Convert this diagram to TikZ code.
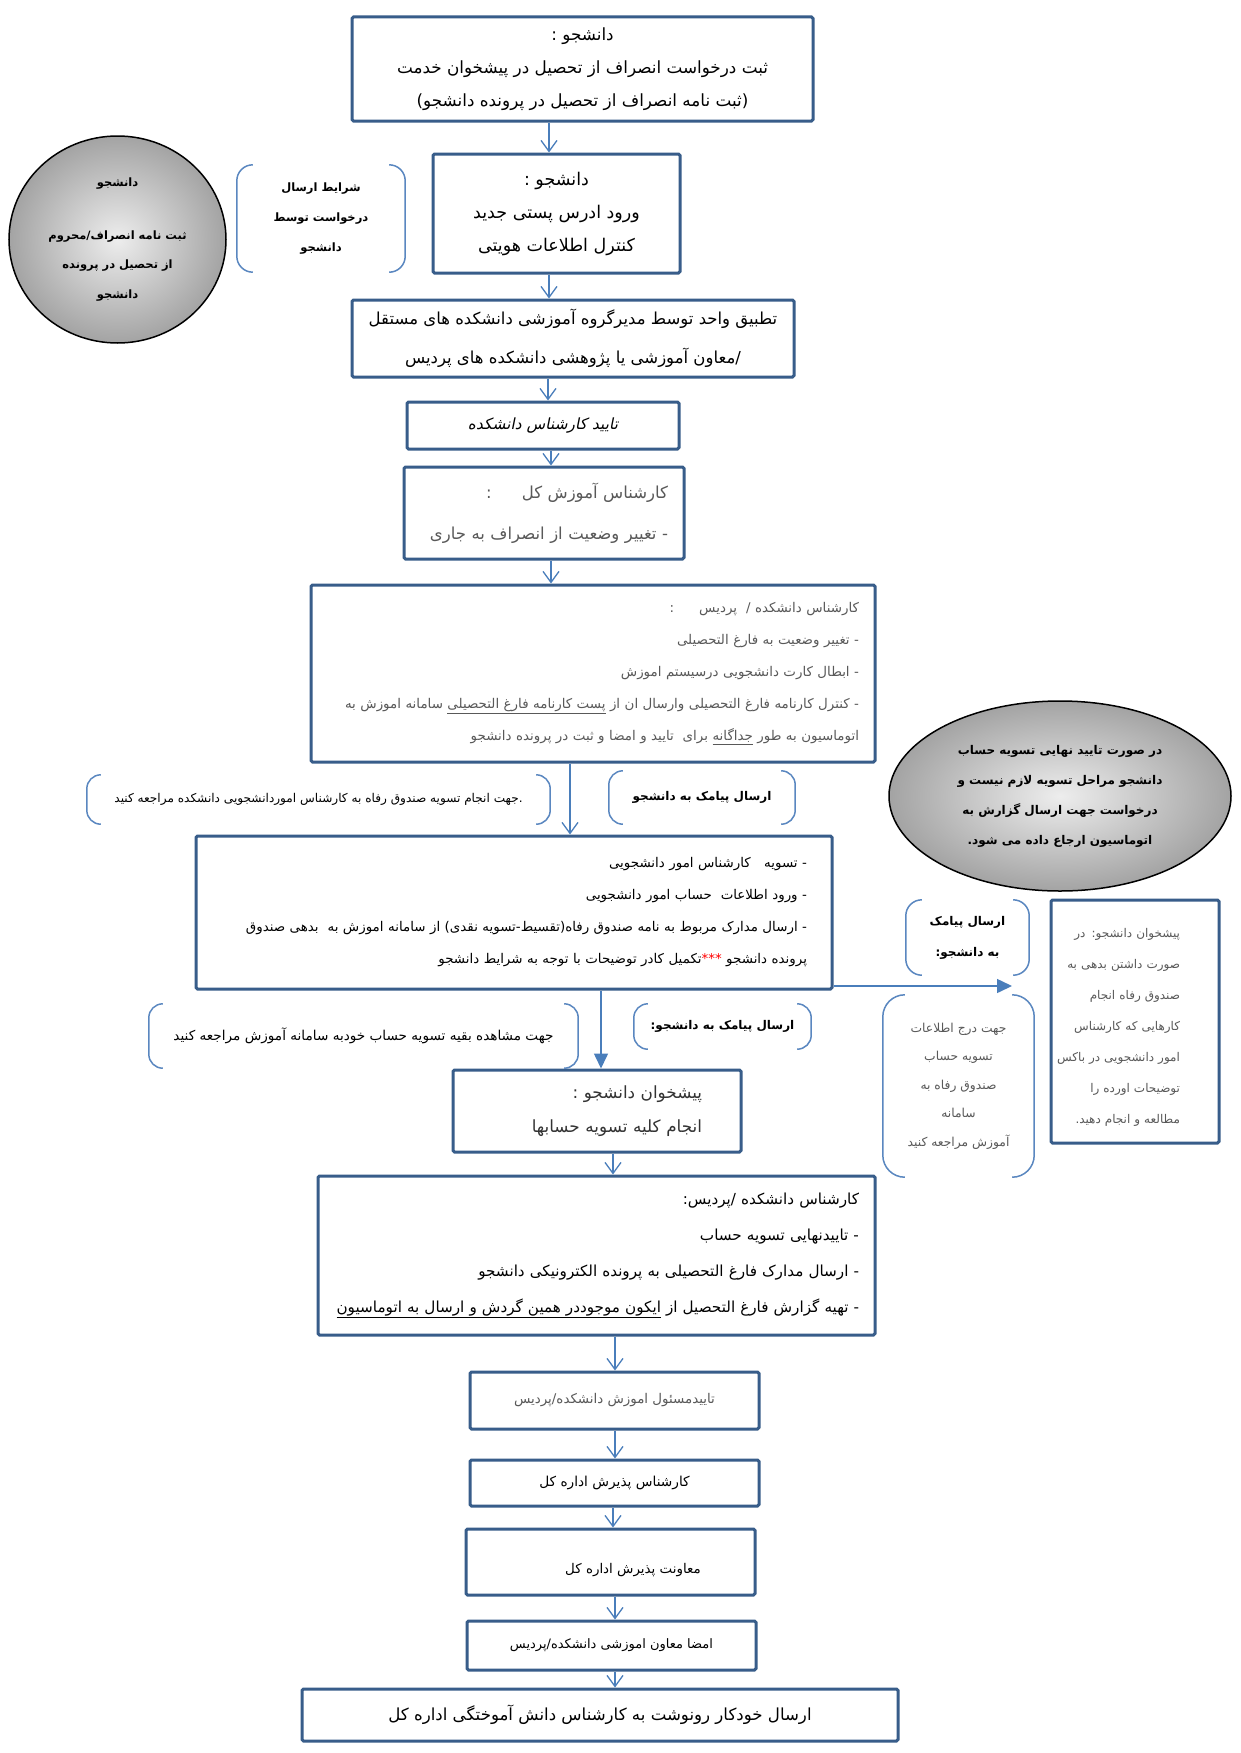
\documentclass[tikz,border=0pt]{standalone}
\usepackage{fontspec}
\usetikzlibrary{arrows.meta,shapes.geometric}
\TeXXeTstate=1
\newfontfamily\arabicfont[Script=Arabic]{DejaVu Sans}
\newfontfamily\arabicit[Script=Arabic,FakeSlant=0.2]{DejaVu Sans}
\newcommand\fa[1]{\beginR#1\endR}
\newcommand\fz[2]{\fontsize{#1}{#2}\selectfont\arabicfont}
\newcommand\ul[1]{\underline{\hbox{\beginR#1\endR}}}
\definecolor{boxc}{HTML}{385D8A}
\definecolor{arrc}{HTML}{4A7EBB}
\definecolor{brkc}{HTML}{5A87C0}
\definecolor{txtg}{HTML}{595959}
\newcommand\drawbrk[3]{%
 \draw[brk, rounded corners=#2] ([xshift=#3]#1.north west) -- (#1.north west) -- (#1.south west) -- ([xshift=#3]#1.south west);
 \draw[brk, rounded corners=#2] ([xshift=-#3]#1.north east) -- (#1.north east) -- (#1.south east) -- ([xshift=-#3]#1.south east);}
\begin{document}
\begin{tikzpicture}[x=1pt,y=-1pt,
  box/.style={draw=boxc, line width=3pt, rounded corners=1.5pt, inner sep=0pt, align=center},
  rbox/.style={draw=boxc, line width=3pt, rounded corners=1.5pt, inner xsep=#1, inner ysep=0pt, align=right},
  brknode/.style={inner sep=0pt, align=center},
  brk/.style={draw=brkc, line width=1.5pt},
  arr/.style={draw=arrc, line width=1.3pt, -{Straight Barb[length=11pt,width=16pt]}},
  farr/.style={draw=arrc, line width=1.5pt, -{Triangle[length=15pt,width=14pt]}},
  oval/.style={ellipse, draw=black, line width=1.5pt, inner color=black!7, outer color=black!36, inner sep=0pt, align=center}
]
\fill[white] (0,0) rectangle (1240,1753);
\useasboundingbox (0,0) rectangle (1240,1753);

% main column
\node[box, minimum width=461pt, minimum height=104pt, font=\fz{16.8}{33}] (b1) at (582.5,69)
 {\fa{دانشجو :}\\\fa{ثبت درخواست انصراف از تحصیل در پیشخوان خدمت}\\\fa{(ثبت نامه انصراف از تحصیل در پرونده دانشجو)}};
\node[box, minimum width=247pt, minimum height=119pt, font=\fz{17.5}{33}] (b2) at (556.5,213.5)
 {\fa{دانشجو :}\\\fa{ورود ادرس پستی جدید}\\\fa{کنترل اطلاعات هویتی}};
\node[box, minimum width=442pt, minimum height=77pt, font=\fz{16.5}{39}] (b3) at (573,338.5)
 {\fa{تطبیق واحد توسط مدیرگروه آموزشی دانشکده های مستقل}\\\fa{معاون آموزشی یا پژوهشی دانشکده های پردیس}/};
\node[box, minimum width=272pt, minimum height=47pt, font=\fontsize{15.4}{17}\selectfont\arabicit] (b4) at (543,425.5)
 {\fa{تایید کارشناس دانشکده}};
\node[rbox=16pt, text width=248pt, minimum height=92pt, text=txtg, font=\fz{16.5}{41}] (b5) at (544,513)
 {\fa{کارشناس آموزش کل\hspace{30pt}:}\\\fa{- تغییر وضعیت از انصراف به جاری}};
\node[rbox=16pt, text width=532pt, minimum height=177pt, text=txtg, font=\fz{13.4}{32}] (b6) at (593,673.5)
 {\fa{کارشناس دانشکده / ~پردیس\hspace{25pt}:}\\
  \fa{- تغییر وضعیت به فارغ التحصیلی}\\
  \fa{- ابطال کارت دانشجویی درسیستم اموزش}\\
  \fa{- کنترل کارنامه فارغ التحصیلی وارسال ان از \ul{پست کارنامه فارغ التحصیلی} سامانه اموزش به}\\
  \fa{اتوماسیون به طور \ul{جداگانه} برای ~تایید و امضا و ثبت در پرونده دانشجو}};
\node[rbox=25pt, text width=586pt, minimum height=153pt, font=\fz{13.4}{32}] (b7) at (514,912.5)
 {\fa{- تسویه ~~کارشناس امور دانشجویی}\\
  \fa{- ورود اطلاعات ~حساب امور دانشجویی}\\
  \fa{- ارسال مدارک مربوط به نامه صندوق رفاه(تقسیط-تسویه نقدی) از سامانه اموزش به ~بدهی صندوق}\\
  \fa{تکمیل کادر توضیحات با توجه به شرایط دانشجو}\textcolor{red}{***}~\fa{پرونده دانشجو}};
\node[rbox=39pt, text width=210pt, minimum height=82pt, text=black!80, font=\fz{16.8}{34}] (b8) at (597,1111)
 {\fa{پیشخوان دانشجو :}\\\fa{انجام کلیه تسویه حسابها}};
\node[rbox=16pt, text width=525pt, minimum height=159pt, font=\fz{15.2}{36}] (b9) at (596.5,1255.5)
 {\fa{کارشناس دانشکده /پردیس:}\\
  \fa{- تاییدنهایی تسویه حساب}\\
  \fa{- ارسال مدارک فارغ التحصیلی به پرونده الکترونیکی دانشجو}\\
  \fa{- تهیه گزارش فارغ التحصیل از \ul{ایکون موجوددر همین گردش و ارسال به اتوماسیون}}};
\node[box, minimum width=289pt, minimum height=57pt, text=txtg, font=\fz{13.4}{16}] (b10) at (614.5,1400.5)
 {\fa{تاییدمسئول اموزش دانشکده/پردیس}};
\node[box, minimum width=289pt, minimum height=46pt, font=\fz{13.7}{16}] (b11) at (614.5,1483)
 {\fa{کارشناس پذیرش اداره کل}};
\node[box, minimum width=289pt, minimum height=66pt] (b12) at (610.5,1562) {};
\node[font=\fz{13.4}{16}, inner sep=0pt] (b12t) at (633,1570) {\fa{معاونت پذیرش اداره کل}};
\node[box, minimum width=289pt, minimum height=49pt, font=\fz{13}{16}] (b13) at (611.5,1645.5)
 {\fa{امضا معاون اموزشی دانشکده/پردیس}};
\node[box, minimum width=596pt, minimum height=52pt, font=\fz{16.6}{20}] (b14) at (600,1715)
 {\fa{ارسال خودکار رونوشت به کارشناس دانش آموختگی اداره کل}};

% side elements
\node[oval, minimum width=217pt, minimum height=207pt, font=\fz{11.5}{29.5}\bfseries] (e1) at (117.5,239.5)
 {\fa{دانشجو}\\[23pt]\fa{ثبت نامه انصراف/محروم}\\\fa{از تحصیل در پرونده}\\\fa{دانشجو}};
\node[brknode, minimum width=168pt, minimum height=107pt, font=\fz{11.5}{30}\bfseries] (k1) at (321,218.5)
 {\fa{شرایط ارسال}\\\fa{درخواست توسط}\\\fa{دانشجو}};
\node[oval, minimum width=342pt, minimum height=190pt, font=\fz{12}{30}\bfseries] (e2) at (1060,796)
 {\fa{در صورت تایید نهایی تسویه حساب}\\\fa{دانشجو مراحل تسویه لازم نیست و}\\\fa{درخواست جهت ارسال گزارش به}\\\fa{اتوماسیون ارجاع داده می شود.}};
\node[brknode, minimum width=463pt, minimum height=49pt, font=\fz{12.1}{14}] (kA) at (318.5,799.5)
 {\fa{جهت انجام تسویه صندوق رفاه به کارشناس اموردانشجویی دانشکده مراجعه کنید}.};
\node[brknode, minimum width=186pt, minimum height=53pt, font=\fz{12}{14}\bfseries] (kB) at (702,797.5)
 {\fa{ارسال پیامک به دانشجو}};
\node[brknode, minimum width=123pt, minimum height=75pt, font=\fz{12}{31}\bfseries] (kC) at (967.5,937.5)
 {\fa{ارسال پیامک}\\\fa{به دانشجو:}};
\node[box, minimum width=168pt, minimum height=243pt] (rb) at (1135,1021.5) {};
\node[inner sep=0pt, text width=126pt, align=right, text=txtg, font=\fz{12}{31}] (rbt) at (1117,1027.5)
 {\fa{پیشخوان دانشجو: در}\\\fa{صورت داشتن بدهی به}\\\fa{صندوق رفاه انجام}\\\fa{کارهایی که کارشناس}\\\fa{امور دانشجویی در باکس}\\\fa{توضیحات اورده را}\\\fa{مطالعه و انجام دهید.}};
\node[brknode, minimum width=151pt, minimum height=182pt, text=txtg, font=\fz{12.3}{28.5}] (kD) at (958.5,1086)
 {\fa{جهت درج اطلاعات}\\\fa{تسویه حساب}\\\fa{صندوق رفاه به}\\\fa{سامانه}\\\fa{آموزش مراجعه کنید}};
\node[brknode, minimum width=429pt, minimum height=64pt, font=\fz{13.6}{15}] (kE) at (363.5,1036)
 {\fa{جهت مشاهده بقیه تسویه حساب خودبه سامانه آموزش مراجعه کنید}};
\node[brknode, minimum width=177pt, minimum height=45pt, font=\fz{12}{14}\bfseries] (kF) at (722.5,1026.5)
 {\fa{ارسال پیامک به دانشجو:}};

\drawbrk{k1}{16pt}{16pt}
\drawbrk{kA}{14pt}{14pt}
\drawbrk{kB}{14pt}{14pt}
\drawbrk{kC}{16pt}{16pt}
\drawbrk{kD}{22pt}{22pt}
\drawbrk{kE}{14pt}{14pt}
\drawbrk{kF}{14pt}{14pt}

% connectors
\coordinate (x1) at (549,0);
\coordinate (x2) at (549,0);
\coordinate (x3) at (548,0);
\coordinate (x4) at (551,0);
\coordinate (x5) at (551,0);
\coordinate (x6) at (570,0);
\coordinate (x7) at (601,0);
\coordinate (x9) at (613,0);
\coordinate (x10) at (615,0);
\coordinate (h8) at (1012,986);
\draw[arr] (b1.south -| x1) -- (b2.north -| x1);
\draw[arr] (b2.south -| x2) -- (b3.north -| x2);
\draw[arr] (b3.south -| x3) -- (b4.north -| x3);
\draw[arr] (b4.south -| x4) -- (b5.north -| x4);
\draw[arr] (b5.south -| x5) -- (b6.north -| x5);
\draw[arr] (b6.south -| x6) -- (b7.north -| x6);
\draw[farr] (b7.south -| x7) -- (b8.north -| x7);
\draw[farr] (b7.east |- h8) -- (h8);
\draw[arr] (b8.south -| x9) -- (b9.north -| x9);
\draw[arr] (b9.south -| x10) -- (b10.north -| x10);
\draw[arr] (b10.south -| x10) -- (b11.north -| x10);
\draw[arr] (b11.south -| x9) -- (b12.north -| x9);
\draw[arr] (b12.south -| x10) -- (b13.north -| x10);
\draw[arr] (b13.south -| x10) -- (b14.north -| x10);
\end{tikzpicture}
\end{document}
